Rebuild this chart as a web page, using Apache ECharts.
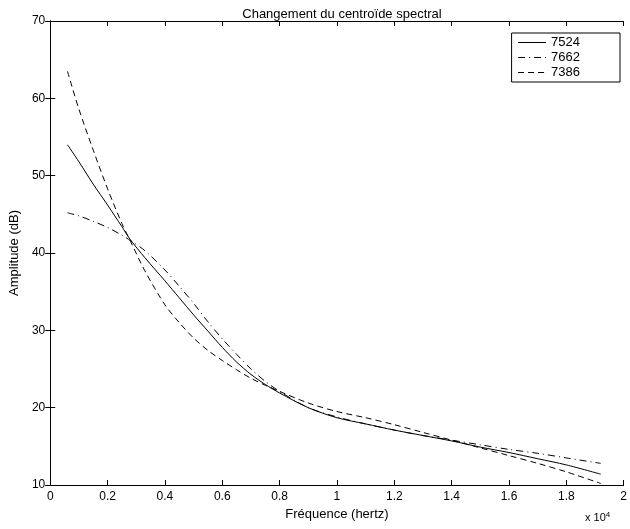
<!DOCTYPE html>
<html>
<head>
<meta charset="utf-8">
<script src="https://cdn.jsdelivr.net/npm/echarts@6/dist/echarts.min.js"></script>
<style>html,body{margin:0;padding:0;background:#fff}#c{width:630px;height:529px}</style>
</head>
<body>
<div id="c"></div>
<script>
// Frequency (x 10^4 Hz)
const freq = [0.06,0.1,0.15,0.2,0.25,0.28,0.33,0.4,0.45,0.5,0.55,0.6,0.65,0.7,0.75,0.8,0.9,1.0,1.1,1.2,1.3,1.4,1.5,1.6,1.7,1.8,1.92];
const s7524 = [54.0,51.8,48.9,46.2,43.4,41.7,39.4,36.4,34.2,32.0,29.9,27.8,25.9,24.3,23.0,21.9,20.0,18.7,17.9,17.1,16.4,15.7,14.9,14.2,13.4,12.6,11.4];
const s7662 = [45.2,44.8,44.1,43.3,42.3,41.6,40.3,37.8,35.7,33.5,31.1,28.9,26.9,25.0,23.4,22.1,20.0,18.8,17.9,17.1,16.4,15.8,15.2,14.6,14.1,13.5,12.8];
const s7386 = [63.5,58.6,53.3,48.3,43.8,41.5,37.7,33.3,31.0,29.0,27.4,26.1,24.9,23.8,22.9,22.1,20.6,19.5,18.7,17.8,16.8,15.8,14.8,13.8,12.8,11.7,10.2];
const xTicks = [0,0.2,0.4,0.6,0.8,1,1.2,1.4,1.6,1.8,2];
const yTicks = [10,20,30,40,50,60,70];
const names = ['7524','7662','7386'];

const F = '"Liberation Sans", Arial, Helvetica, sans-serif';
const pair = arr => freq.map((x,i)=>[x,arr[i]]);
const fmtX = v => { const s = xTicks.find(t=>Math.abs(t-v)<1e-9); return s===undefined?'':String(s); };
const fmtY = v => { const s = yTicks.find(t=>Math.abs(t-v)<1e-9); return s===undefined?'':String(s); };

const chart = echarts.init(document.getElementById('c'));
const axisBase = {
  axisLine:{show:true,lineStyle:{color:'#000',width:1}},
  axisTick:{show:true,inside:true,length:5,lineStyle:{color:'#000'}},
  splitLine:{show:false}
};
const lineSeries = (name, arr, type) => ({
  name, type:'line', data:pair(arr), smooth:0.3,
  showSymbol:false, symbol:'none',
  lineStyle:{color:'#000',width:1,type}, itemStyle:{color:'#000'}
});
chart.setOption({
  animation:false,
  backgroundColor:'#fff',
  title:{text:'Changement du centroïde spectral',left:337,top:3,textAlign:'center',
    textStyle:{fontFamily:F,fontSize:13,fontWeight:'normal',color:'#000'}},
  grid:{left:47,right:4,top:21,bottom:44},
  legend:{
    data:names,orient:'vertical',right:10,top:33,
    backgroundColor:'#fff',borderColor:'#000',borderWidth:1,
    padding:[3,40,3,6],itemGap:2,itemWidth:28,itemHeight:12,
    itemStyle:{opacity:0,borderWidth:0},
    lineStyle:{width:1},
    textStyle:{fontFamily:F,fontSize:13,color:'#000'}
  },
  xAxis:[
    Object.assign({type:'value',min:0,max:2,interval:0.2,position:'bottom',
      name:'Fréquence (hertz)',nameLocation:'middle',nameGap:23,
      nameTextStyle:{fontFamily:F,fontSize:13,color:'#000'},
      axisLabel:{fontFamily:F,fontSize:12,color:'#000',margin:6,formatter:fmtX}},axisBase),
    Object.assign({type:'value',min:0,max:2,interval:0.2,position:'top',axisLabel:{show:false}},axisBase)
  ],
  yAxis:[
    Object.assign({type:'value',min:10,max:70,interval:10,position:'left',
      name:'Amplitude (dB)',nameLocation:'middle',nameGap:26,
      nameTextStyle:{fontFamily:F,fontSize:13,color:'#000'},
      axisLabel:{fontFamily:F,fontSize:12,color:'#000',margin:5,formatter:fmtY}},axisBase),
    Object.assign({type:'value',min:10,max:70,interval:10,position:'right',axisLabel:{show:false}},axisBase)
  ],
  graphic:[{type:'text',left:585,top:511,
    style:{text:'x 10{s|4}',font:'11px '+F,fill:'#000',
      rich:{s:{fontSize:8,verticalAlign:'top',padding:[0,0,6,0],fontFamily:F}}}}],
  series:[
    lineSeries(names[0], s7524, 'solid'),
    lineSeries(names[1], s7662, [7,4,1,4]),
    lineSeries(names[2], s7386, [6,4])
  ]
});
</script>
</body>
</html>
